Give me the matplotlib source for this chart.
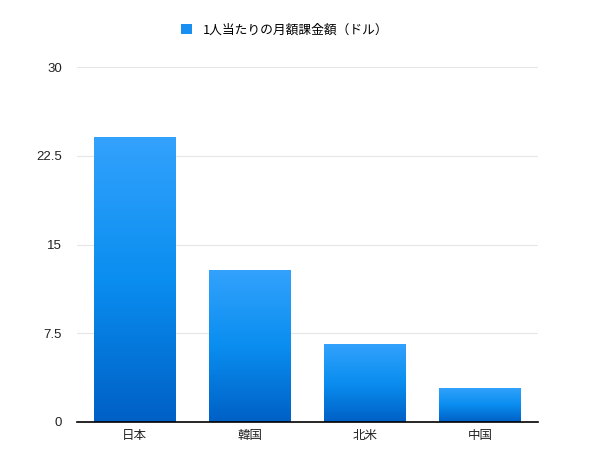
import numpy as np
import matplotlib
matplotlib.use('Agg')
import matplotlib.pyplot as plt
from matplotlib.colors import LinearSegmentedColormap
from matplotlib.patches import Patch

plt.rcParams['font.family'] = ['Noto Sans CJK JP', 'DejaVu Sans']

# data
categories = ['日本', '韓国', '北米', '中国']
values = [24.1, 12.85, 6.6, 2.9]
yticks = [0, 7.5, 15, 22.5, 30]
ytick_labels = ['0', '7.5', '15', '22.5', '30']
series_name = '1人当たりの月額課金額（ドル）'

# gradient: dark at bottom, light at top
cmap = LinearSegmentedColormap.from_list('bar', ['#0060c6', '#0a8ef0', '#33a2fd'])

fig = plt.figure(figsize=(6.06, 4.53), dpi=100)
ax = fig.add_axes([77 / 606, 31 / 453, 461 / 606, 355 / 453])

x = np.arange(len(categories))
bars = ax.bar(x, values, width=0.71, color='none', edgecolor='none', zorder=3)

grad = np.linspace(0, 1, 256).reshape(-1, 1)
for b in bars:
    x0, y0 = b.get_x(), b.get_y()
    im = ax.imshow(grad, cmap=cmap, origin='lower', aspect='auto',
                   extent=[x0, x0 + b.get_width(), y0, y0 + b.get_height()],
                   zorder=3)
    im.set_clip_path(b)

ax.set_xlim(-0.5, len(categories) - 0.5)
ax.set_ylim(0, 30)
ax.set_xticks(x)
ax.set_xticklabels(categories, fontsize=9)
ax.set_yticks(yticks)
ax.set_yticklabels(ytick_labels, fontsize=9.5, family=['Liberation Sans', 'DejaVu Sans'])
ax.tick_params(axis='both', length=0, colors='#222222')
ax.tick_params(axis='y', pad=11)
ax.tick_params(axis='x', pad=5)

ax.grid(axis='y', color='#e6e6e6', linewidth=0.8, zorder=0)
for s in ['top', 'right', 'left']:
    ax.spines[s].set_visible(False)
ax.spines['bottom'].set_color('black')
ax.spines['bottom'].set_linewidth(1.2)
ax.spines['bottom'].set_zorder(4)

handle = Patch(facecolor='#1a8ff2', edgecolor='none')
fig.legend([handle], [series_name], loc='center', bbox_to_anchor=(285 / 606, 1 - 30 / 453),
           frameon=False, fontsize=9.2, handlelength=0.8, handleheight=0.8,
           handletextpad=0.9)

fig.savefig('out.png', dpi=100)
